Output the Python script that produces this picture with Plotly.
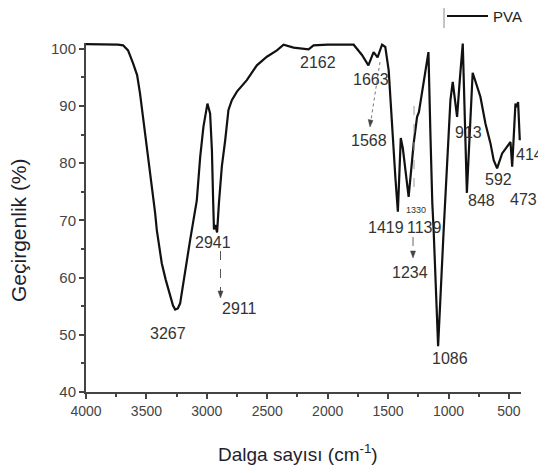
import plotly.graph_objects as go

# ---- data ----
wavenumber = [4000, 3900, 3800, 3735, 3693, 3652, 3611, 3577, 3553, 3511, 3470, 3428, 3414,
              3373, 3340, 3304, 3280, 3262, 3240, 3221, 3180, 3138, 3083, 3055, 3028, 2995, 2973, 2958,
              2948, 2941, 2930, 2915, 2900, 2890, 2876, 2848, 2821, 2793, 2751, 2669, 2586,
              2503, 2420, 2365, 2282, 2158, 2117, 2000, 1785, 1716, 1663, 1620, 1587, 1550,
              1523, 1495, 1481, 1440, 1419, 1408, 1395, 1378, 1365, 1330, 1288, 1260, 1245,
              1206, 1166, 1150, 1140, 1134, 1123, 1086, 1040, 1012, 984, 965, 929, 905, 882,
              848, 800, 736, 694, 653, 626, 598, 556, 515, 487, 473, 446, 432, 424, 410]
transmittance = [100.8, 100.8, 100.8, 100.7, 100.6, 99.7, 97.5, 95.4, 92.2, 85.3, 78.3, 71.3, 68.3,
                 62.5, 59.6, 56.7, 55.1, 54.4, 54.6, 55.5, 61.3, 66.6, 73.5, 81.1, 86.4, 90.4, 88.7, 82.3,
                 73.6, 68.4, 69.2, 67.9, 73.0, 75.9, 79.4, 84.0, 89.3, 91.0, 92.5, 94.5, 97.1,
                 98.6, 99.7, 100.7, 100.2, 99.9, 100.6, 100.7, 100.7, 98.9, 97.1, 99.4, 98.5, 100.7,
                 100.3, 96.2, 91.0, 77.6, 71.5, 78.0, 84.4, 82.6, 80.0, 74.1, 83.5, 88.1, 88.9,
                 94.0, 99.4, 85.3, 74.5, 73.0, 68.3, 48.0, 68.3, 79.3, 91.0, 94.2, 88.1, 95.0, 100.9,
                 74.8, 95.8, 91.6, 86.9, 83.5, 80.5, 79.1, 81.7, 82.9, 83.7, 79.4, 90.4, 89.8, 90.7, 84.0]
series_name = "PVA"
peak_labels = ["3267", "2941", "2911", "2162", "1663", "1568", "1419", "1330", "1139",
               "1234", "1086", "913", "848", "592", "473", "414"]
x_ticks = [4000, 3500, 3000, 2500, 2000, 1500, 1000, 500]
y_ticks = [40, 50, 60, 70, 80, 90, 100]

# ---- layout helpers (page pixel -> paper); the page body has an 8px margin ----
PAGE_W, PAGE_H, BODY = 546, 473, 8
W, H = PAGE_W - BODY, PAGE_H - 2 * BODY
PL, PT, PR, PB = 86, 43, 521, 392          # plot area in page pixels
ML, MT = PL - BODY, PT - BODY
MR, MB = BODY + W - PR, BODY + H - PB
PW, PH = PR - PL, PB - PT


def px(x):
    return (x - PL) / PW


def py(y):
    return (PB - y) / PH


label_pos = [(168, 333), (213, 242), (239, 308), (318, 62), (371, 79), (369, 140),
             (386, 227), (416, 210), (424, 227), (410, 272), (450, 358), (468, 132),
             (481, 200), (498, 179), (523, 199), (529, 154)]
label_size = [16] * len(peak_labels)
label_size[7] = 9

fig = go.Figure()
fig.add_trace(go.Scatter(x=wavenumber, y=transmittance, mode="lines", name=series_name,
                         line=dict(color="#111111", width=2.2), showlegend=False))

annotations = []
for txt, (lx, ly), fs in zip(peak_labels, label_pos, label_size):
    annotations.append(dict(text=txt, x=px(lx), y=py(ly), xref="paper", yref="paper",
                            showarrow=False, xanchor="center", yanchor="middle",
                            font=dict(size=fs, color="#333333", family="Arial, Liberation Sans")))
# legend text
annotations.append(dict(text=series_name, x=px(491), y=py(17), xref="paper", yref="paper",
                        showarrow=False, xanchor="left", yanchor="middle",
                        font=dict(size=15, color="#222222", family="Arial, Liberation Sans")))
# axis titles
annotations.append(dict(text="Dalga sayısı (cm<sup>-1</sup>)", x=px(298), y=py(453),
                        xref="paper", yref="paper", showarrow=False,
                        xanchor="center", yanchor="middle",
                        font=dict(size=19, color="#1e1e2e", family="Arial, Liberation Sans")))
annotations.append(dict(text="Geçirgenlik (%)", x=px(18), y=py(230),
                        xref="paper", yref="paper", showarrow=False, textangle=-90,
                        xanchor="center", yanchor="middle",
                        font=dict(size=21, color="#1e1e2e", family="Arial, Liberation Sans")))

shapes = []


def seg(x0, y0, x1, y1, color="#555555", width=1, dash="solid"):
    shapes.append(dict(type="line", xref="paper", yref="paper", x0=px(x0), y0=py(y0),
                       x1=px(x1), y1=py(y1), line=dict(color=color, width=width, dash=dash)))


def head(x, y, color="#444444"):
    path = f"M {px(x)},{py(y)} L {px(x-2.5)},{py(y-7)} L {px(x+2.5)},{py(y-7)} Z"
    shapes.append(dict(type="path", xref="paper", yref="paper", path=path,
                       fillcolor=color, line=dict(color=color, width=0.5)))


# dashed pointer lines
seg(220.5, 251, 220.5, 291, dash="dash")
head(220.5, 298)
seg(380, 62, 371, 120, color="#777777", dash="dot")
shapes.append(dict(type="path", xref="paper", yref="paper",
                   path=f"M {px(370)},{py(127)} L {px(368.2)},{py(119.5)} L {px(373)},{py(120.5)} Z",
                   fillcolor="#444444", line=dict(color="#444444", width=0.5)))
seg(414, 106, 414, 193, color="#9a9a9a", dash="dash")
seg(413, 237, 413, 251, color="#666666", dash="dash")
head(413, 258)
# legend
seg(444, 8, 444, 28, color="#888888", width=1)
seg(447, 16, 488, 16, color="#111111", width=2)

axis_common = dict(showline=True, linecolor="#444444", linewidth=2, ticks="outside",
                   ticklen=5, tickwidth=1.5, tickcolor="#444444", showgrid=False,
                   zeroline=False, mirror=False, automargin=False)

fig.update_layout(
    width=W, height=H,
    margin=dict(l=ML, r=MR, t=MT, b=MB, autoexpand=False),
    paper_bgcolor="white", plot_bgcolor="white",
    showlegend=False,
    font=dict(family="Arial, Liberation Sans", color="#444444"),
    xaxis=dict(range=[4000, 400], tickvals=x_ticks, ticktext=[str(v) for v in x_ticks],
               tickfont=dict(size=14, color="#444444"),
               minor=dict(ticks="outside", ticklen=3, dtick=250, tick0=0, tickcolor="#444444"),
               **axis_common),
    yaxis=dict(range=[40, 101], tickvals=y_ticks, ticktext=[str(v) for v in y_ticks],
               tickfont=dict(size=15, color="#444444"),
               minor=dict(ticks="outside", ticklen=3, dtick=5, tick0=0, tickcolor="#444444"),
               **axis_common),
    annotations=annotations,
    shapes=shapes,
)

fig.write_html("out.html")
